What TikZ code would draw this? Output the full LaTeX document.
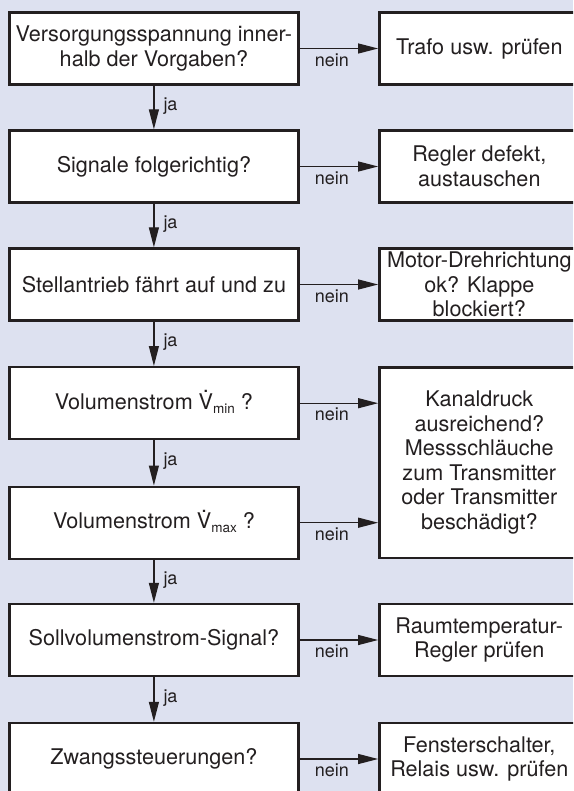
\documentclass[tikz,border=0pt]{standalone}
\usepackage{fontspec}
\setmainfont{TeX Gyre Heros}
\usetikzlibrary{arrows.meta}
\definecolor{bg}{RGB}{221,225,240}
\definecolor{ink}{RGB}{35,31,32}
\newcommand\myVdot{\ooalign{V\cr\hidewidth\raisebox{0.76em}{.}\hidewidth\cr}}
\newcommand\mysub[1]{\raisebox{-4pt}{\fontsize{13.5}{14}\selectfont #1}}
\begin{document}
\begin{tikzpicture}[x=1pt,y=-1pt,
  box/.style={draw=ink, line width=2.4pt, fill=white, minimum height=72pt, inner sep=0pt, align=center, font=\fontsize{21.6}{24.5}\selectfont, text=ink},
  lbox/.style={box, minimum width=288.8pt},
  rbox/.style={box, minimum width=200pt},
  flow/.style={draw=ink, line width=1.2pt, -{Triangle[length=20pt,width=10pt]}},
  lbl/.style={font=\fontsize{18}{20}\selectfont, text=ink, inner sep=0pt},
  nein/.style={lbl, midway, anchor=base, yshift=-17.7pt, xshift=-7pt},
  ja/.style={lbl, midway, anchor=base west, xshift=9pt, yshift=-3pt}
]
\useasboundingbox (0,0) rectangle (573,791);
\fill[bg] (0,0) rectangle (573,791);
\clip (0,0) rectangle (573,791);

\node[lbox] (q1) at (153.9,48.5) {Versorgungsspannung inner-\\halb der Vorgaben?};
\node[rbox] (a1) at (479.3,48.5) {Trafo usw. prüfen};
\node[lbox] (q2) at (153.9,166.5) {Signale folgerichtig?};
\node[rbox] (a2) at (479.3,166.5) {Regler defekt,\\austauschen};
\node[lbox] (q3) at (153.9,284.5) {Stellantrieb fährt auf und zu};
\node[rbox] (a3) at (479.3,284.5) {Motor-Drehrichtung\\ok? Klappe\\blockiert?};
\node[lbox] (q4) at (153.9,403.2) {Volumenstrom \myVdot\mysub{min} ?};
\node[lbox] (q5) at (153.9,522.7) {Volumenstrom \myVdot\mysub{max} ?};
\node[rbox, minimum height=190.4pt] (a4) at (479.3,462.5) {Kanaldruck\\ausreichend?\\Messschläuche\\zum Transmitter\\oder Transmitter\\beschädigt?};
\node[lbox] (q6) at (153.9,640) {Sollvolumenstrom-Signal?};
\node[rbox] (a6) at (479.3,640) {Raumtemperatur-\\Regler prüfen};
\node[lbox] (q7) at (153.9,759) {Zwangssteuerungen?};
\node[rbox] (a7) at (479.3,759) {Fensterschalter,\\Relais usw. prüfen};

\draw[flow] (q1.east) -- (a1.west) node[nein] {nein};
\draw[flow] (q2.east) -- (a2.west) node[nein] {nein};
\draw[flow] (q3.east) -- (a3.west) node[nein] {nein};
\draw[flow] (q4.east) -- (q4.east -| a4.west) node[nein] {nein};
\draw[flow] (q5.east) -- (q5.east -| a4.west) node[nein] {nein};
\draw[flow] (q6.east) -- (a6.west) node[nein] {nein};
\draw[flow] (q7.east) -- (a7.west) node[nein] {nein};

\draw[flow] (q1.south) -- (q2.north) node[ja] {ja};
\draw[flow] (q2.south) -- (q3.north) node[ja] {ja};
\draw[flow] (q3.south) -- (q4.north) node[ja] {ja};
\draw[flow] (q4.south) -- (q5.north) node[ja] {ja};
\draw[flow] (q5.south) -- (q6.north) node[ja] {ja};
\draw[flow] (q6.south) -- (q7.north) node[ja] {ja};
\end{tikzpicture}
\end{document}
